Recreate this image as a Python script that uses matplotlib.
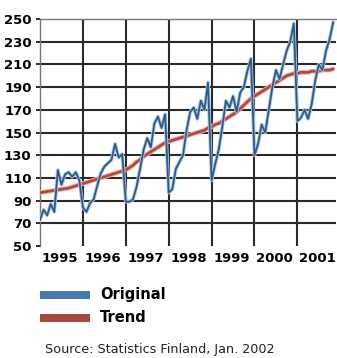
import matplotlib
matplotlib.use('Agg')
import matplotlib.pyplot as plt
import matplotlib.patheffects as pe
from matplotlib.patches import Rectangle
import numpy as np

# Monthly index values, Jan 1995 .. Nov 2001
original_1995 = [73, 82, 77, 87, 80, 117, 104, 113, 115, 111, 115, 108]
original_1996 = [84, 80, 88, 91, 103, 114, 120, 123, 126, 140, 128, 131]
original_1997 = [89, 89, 91, 102, 118, 135, 145, 137, 158, 164, 154, 166]
original_1998 = [97, 100, 118, 124, 130, 152, 168, 172, 162, 178, 170, 194]
original_1999 = [108, 122, 135, 155, 178, 172, 182, 168, 185, 190, 204, 215]
original_2000 = [130, 140, 157, 150, 170, 190, 205, 197, 210, 222, 230, 246]
original_2001 = [160, 163, 170, 162, 175, 196, 210, 205, 222, 232, 247]

trend_1995 = [97, 97.5, 98, 98.5, 99, 99.5, 100, 100.5, 101, 102, 103, 104]
trend_1996 = [105, 106, 107, 108, 109, 110, 111, 112, 113, 114, 115, 116]
trend_1997 = [117, 119, 121, 124, 126, 129, 131, 133, 135, 137, 139, 141]
trend_1998 = [142, 143, 144, 145, 146, 147, 148, 149, 150, 151, 152, 154]
trend_1999 = [155, 157, 158, 160, 162, 164, 166, 168, 171, 174, 177, 180]
trend_2000 = [182, 184, 186, 188, 190, 192, 194, 196, 198, 200, 201, 202]
trend_2001 = [202, 203, 203, 203, 204, 204, 204, 205, 205, 205, 206]

years = [1995, 1996, 1997, 1998, 1999, 2000, 2001]
y_ticks = [50, 70, 90, 110, 130, 150, 170, 190, 210, 230, 250]

original = np.array(original_1995 + original_1996 + original_1997 + original_1998
                    + original_1999 + original_2000 + original_2001, dtype=float)
trend = np.array(trend_1995 + trend_1996 + trend_1997 + trend_1998
                 + trend_1999 + trend_2000 + trend_2001, dtype=float)
t = 1995 + np.arange(len(original)) / 12.0

plt.rcParams['font.family'] = ['Liberation Sans Narrow', 'DejaVu Sans']

fig = plt.figure(figsize=(3.37, 3.58), dpi=100, facecolor='white')
ax = fig.add_axes([40 / 337, 1 - 246 / 358, 296 / 337, 227 / 358])
ax.set_facecolor('white')

# grid: heavy dark lines
for yv in y_ticks[1:-1]:
    ax.axhline(yv, color='#2a2a2a', lw=1.5, zorder=1)
for yr in years[1:]:
    ax.axvline(yr, color='#2a2a2a', lw=1.5, zorder=1)

ax.plot(t, trend, color='#b8463c', lw=2.0, zorder=3, solid_capstyle='round',
        path_effects=[pe.Stroke(linewidth=3.4, foreground='#e9b7ae'), pe.Normal()])
ax.plot(t, original, color='#2d5a8a', lw=1.3, zorder=4, solid_joinstyle='round',
        path_effects=[pe.Stroke(linewidth=2.6, foreground='#a9c8e2'), pe.Normal()])

ax.set_xlim(1995.0, 2001.9)
ax.set_ylim(50, 250)
ax.set_yticks(y_ticks)
ax.set_yticklabels([str(v) for v in y_ticks], fontsize=9.5, fontweight='bold')
ax.tick_params(axis='y', length=3, width=1.4, color='#2a2a2a', pad=3)
ax.set_xticks([y + 0.47 for y in years])
ax.set_xticklabels([str(y) for y in years], fontsize=9.5, fontweight='bold')
ax.tick_params(axis='x', length=0, pad=4)

for side in ['bottom', 'right']:
    ax.spines[side].set_visible(False)
for side in ['top', 'left']:
    ax.spines[side].set_color('#777777')
    ax.spines[side].set_linewidth(1.0)

# legend swatches
fig.patches.append(Rectangle((40 / 337, 1 - 299 / 358), 50 / 337, 8 / 358,
                             transform=fig.transFigure, facecolor='#4479ad',
                             edgecolor='none'))
fig.patches.append(Rectangle((40 / 337, 1 - 322 / 358), 50 / 337, 8 / 358,
                             transform=fig.transFigure, facecolor='#a8473c',
                             edgecolor='none'))
fig.text(100 / 337, 1 - 294 / 358, 'Original', fontsize=10.5, fontweight='bold',
         va='center', ha='left')
fig.text(100 / 337, 1 - 317 / 358, 'Trend', fontsize=10.5, fontweight='bold',
         va='center', ha='left')
fig.text(45 / 337, 1 - 350 / 358, 'Source: Statistics Finland, Jan. 2002',
         fontsize=9.2, va='center', ha='left', color='#222222')

fig.savefig('out.png', dpi=100, facecolor='white')
